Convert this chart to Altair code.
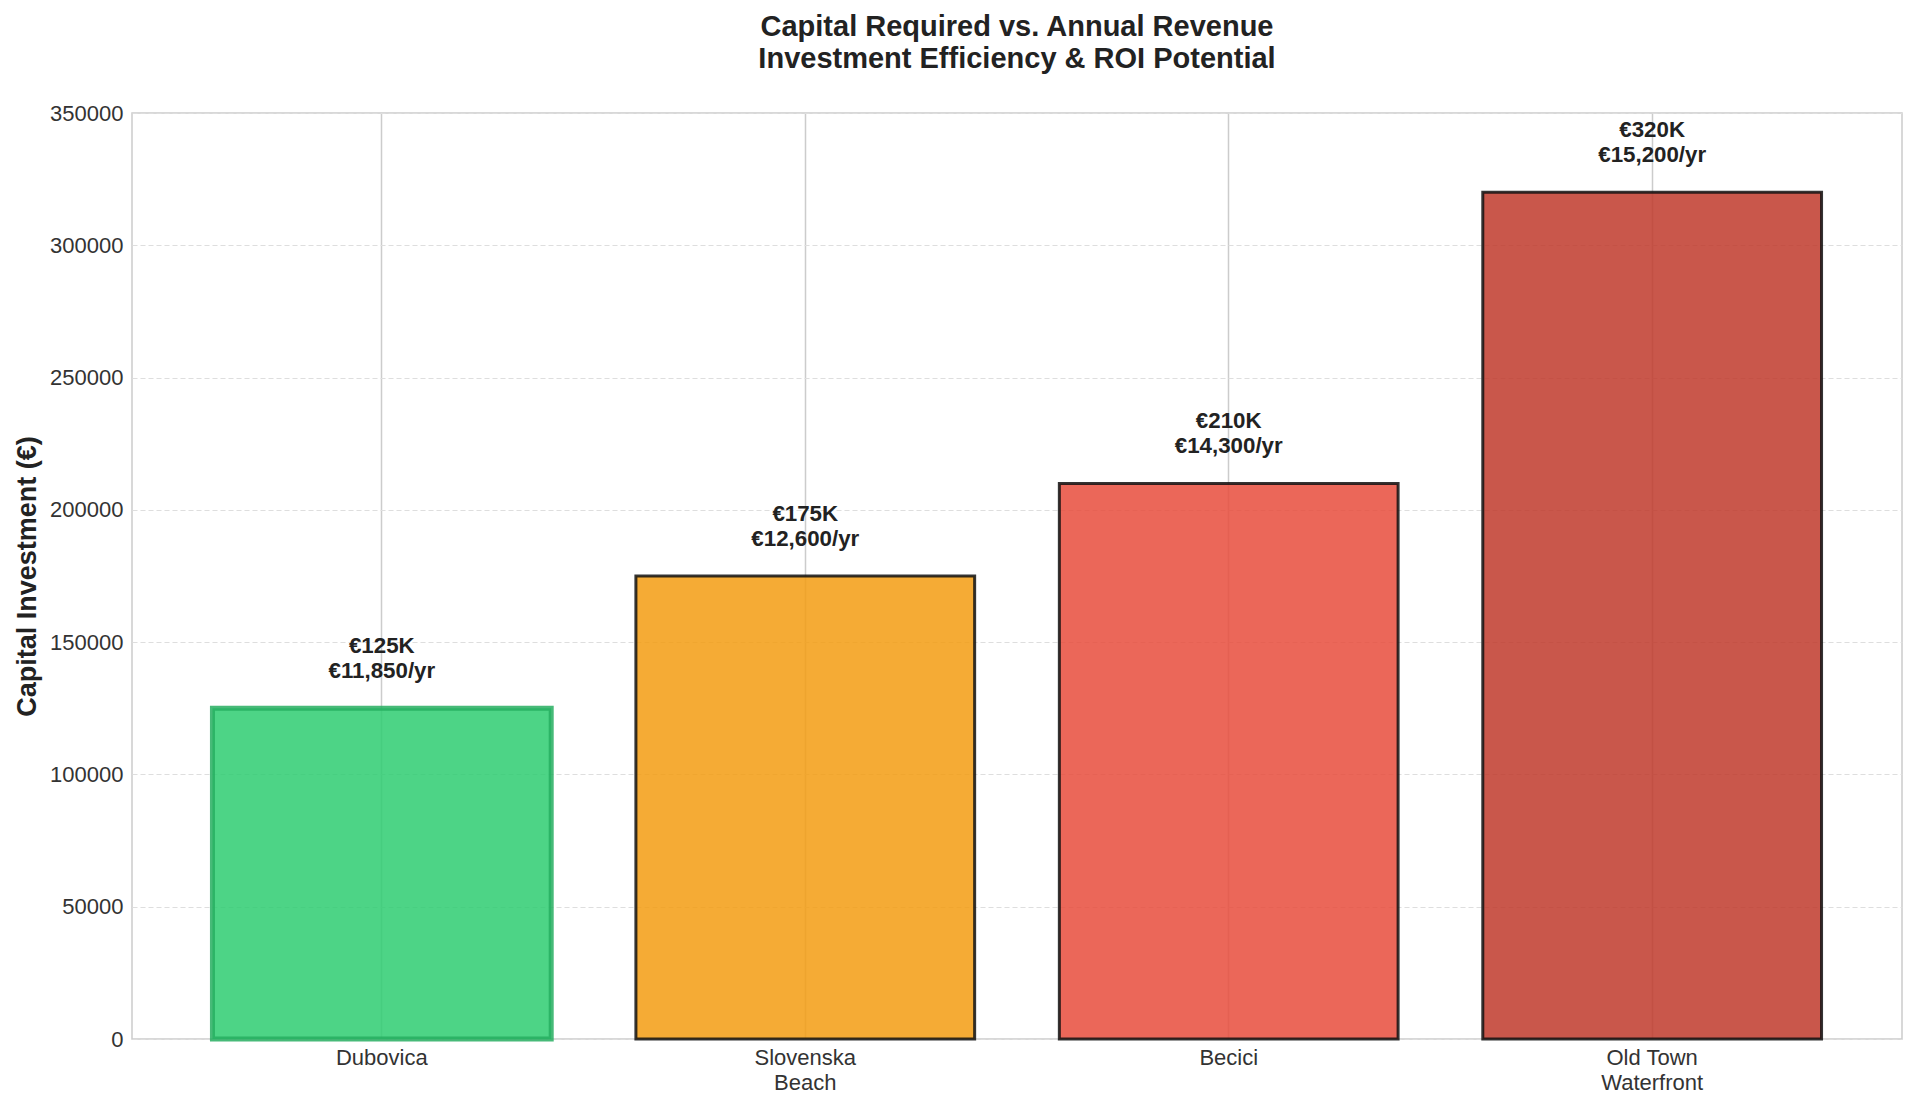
import altair as alt
import pandas as pd

regions = ["Dubovica", "Slovenska\nBeach", "Becici", "Old Town\nWaterfront"]
capital = [125000, 175000, 210000, 320000]
revenue = [11850, 12600, 14300, 15200]
fill_colors = ["#2ecc71", "#f39c12", "#e74c3c", "#c0392b"]
edge_colors = ["#27ae60", "#111111", "#111111", "#111111"]
edge_widths = [5, 3, 3, 3]
y_ticks = [0, 50000, 100000, 150000, 200000, 250000, 300000, 350000]

df = pd.DataFrame({
    "region": regions,
    "capital": capital,
    "revenue": revenue,
    "fill": fill_colors,
    "edge": edge_colors,
    "ew": edge_widths,
})
df["cap_label"] = ["€{}K".format(c // 1000) for c in capital]
df["rev_label"] = ["€{:,}/yr".format(r) for r in revenue]

FONT = "Liberation Sans"

x_enc = alt.X(
    "region:N",
    sort=regions,
    scale=alt.Scale(paddingInner=0.2, paddingOuter=0.19),
    axis=alt.Axis(
        title=None,
        labelAngle=0,
        labelFontSize=22,
        labelFont=FONT,
        labelColor="#333333",
        labelPadding=8,
        labelLineHeight=25,
        labelExpr="split(datum.label, '\\n')",
        ticks=False,
        domain=False,
        grid=True,
        gridColor="#cccccc",
        gridWidth=1.5,
        tickBand="center",
    ),
)

y_enc = alt.Y(
    "capital:Q",
    scale=alt.Scale(domain=[0, 350000], nice=False),
    axis=alt.Axis(
        title="Capital Investment (€)",
        titleFont=FONT,
        titleFontSize=27,
        titleFontWeight="bold",
        titleColor="#222222",
        titleAngle=270,
        titleBaseline="middle",
        titleX=-105,
        titleY=463,
        values=y_ticks,
        format="d",
        labelFontSize=22,
        labelFont=FONT,
        labelColor="#333333",
        labelPadding=9,
        ticks=False,
        domain=False,
        grid=True,
        gridColor="#dedede",
        gridDash=[5, 3],
        gridWidth=1.2,
    ),
)

bars = alt.Chart(df).mark_bar(fillOpacity=0.85, strokeOpacity=0.85).encode(
    x=x_enc,
    y=y_enc,
    fill=alt.Fill("fill:N", scale=None),
    stroke=alt.Stroke("edge:N", scale=None),
    strokeWidth=alt.StrokeWidth("ew:Q", scale=None),
)

line1 = alt.Chart(df).mark_text(
    font=FONT, fontSize=22.3, fontWeight="bold", color="#222222",
    baseline="alphabetic", dy=-55,
).encode(
    x=alt.X("region:N", sort=regions),
    y=alt.Y("capital:Q"),
    text="cap_label:N",
)

line2 = alt.Chart(df).mark_text(
    font=FONT, fontSize=22.3, fontWeight="bold", color="#222222",
    baseline="alphabetic", dy=-30.5,
).encode(
    x=alt.X("region:N", sort=regions),
    y=alt.Y("capital:Q"),
    text="rev_label:N",
)

chart = alt.layer(bars, line1, line2).properties(
    width=1770,
    height=926,
    title=alt.TitleParams(
        text=["Capital Required vs. Annual Revenue", "Investment Efficiency & ROI Potential"],
        font=FONT,
        fontSize=29,
        fontWeight="bold",
        color="#222222",
        lineHeight=32,
        anchor="middle",
        offset=28,
    ),
    autosize=alt.AutoSizeParams(type="none"),
    padding={"left": 124, "top": 105, "right": 10, "bottom": 55},
    background="white",
).configure_view(
    stroke="#cccccc",
    strokeWidth=1.5,
)

chart.save("out.html", embed_options={"renderer": "svg", "actions": False})
